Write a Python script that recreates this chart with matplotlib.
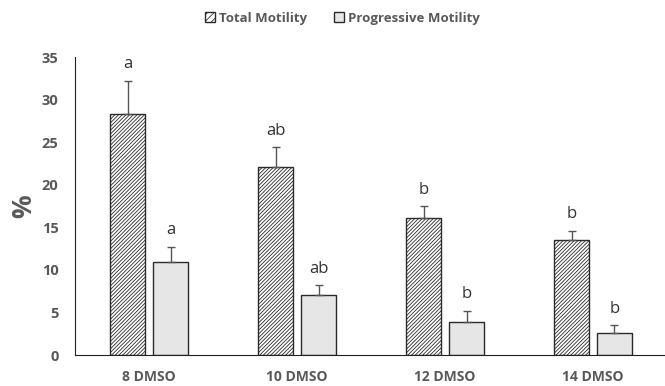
import numpy as np
import matplotlib
matplotlib.use("Agg")
import matplotlib.pyplot as plt
from matplotlib.patches import Patch

categories = ["8 DMSO", "10 DMSO", "12 DMSO", "14 DMSO"]
total = [28.3, 22.1, 16.1, 13.5]
total_err = [3.9, 2.3, 1.4, 1.1]
progressive = [10.9, 7.05, 3.9, 2.6]
progressive_err = [1.8, 1.15, 1.3, 0.9]
total_letters = ["a", "ab", "b", "b"]
prog_letters = ["a", "ab", "b", "b"]

plt.rcParams["font.family"] = ["Open Sans", "DejaVu Sans"]
plt.rcParams["hatch.linewidth"] = 0.6

fig = plt.figure(figsize=(6.65, 3.86), dpi=100)
ax = fig.add_axes([0.113, 0.080, 0.89, 0.772])

x = np.arange(len(categories))
w = 0.235
off = 0.145
edge = "#2b2b2b"

ax.bar(x - off, total, w, color="white", edgecolor=edge, hatch="/////////", linewidth=1.0,
       yerr=[[0] * 4, total_err], error_kw=dict(ecolor="#555555", elinewidth=1, capsize=3))
ax.bar(x + off, progressive, w, color="#e7e6e6", edgecolor=edge, linewidth=1.0,
       yerr=[[0] * 4, progressive_err], error_kw=dict(ecolor="#555555", elinewidth=1, capsize=3))

for i in range(len(categories)):
    ax.text(x[i] - off, total[i] + total_err[i] + 1.0, total_letters[i],
            ha="center", va="bottom", fontsize=12, color="#333333")
    ax.text(x[i] + off, progressive[i] + progressive_err[i] + 1.0, prog_letters[i],
            ha="center", va="bottom", fontsize=12, color="#333333")

ax.set_xlim(-0.5, 3.5)
ax.set_ylim(0, 35)
ax.set_yticks(range(0, 36, 5))
ax.set_xticks(x)
ax.set_xticklabels(categories, fontweight="bold", color="#595959", fontsize=10)
for lab in ax.get_yticklabels():
    lab.set_fontweight("bold")
    lab.set_color("#595959")
    lab.set_fontsize(10.5)
ax.tick_params(axis="y", length=0, pad=12)
ax.tick_params(axis="x", length=0, pad=11)
ax.set_ylabel("%", fontsize=19, fontweight="bold", color="#595959", labelpad=3)

for s in ["top", "right"]:
    ax.spines[s].set_visible(False)
ax.spines["left"].set_color("#222222")
ax.spines["bottom"].set_color("#222222")

handles = [Patch(facecolor="white", edgecolor=edge, hatch="/////", label="Total Motility"),
           Patch(facecolor="#e7e6e6", edgecolor=edge, label="Progressive Motility")]
leg = fig.legend(handles=handles, loc="center", bbox_to_anchor=(0.515, 0.953), ncol=2,
                 frameon=False, handlelength=0.8, handleheight=0.8, handletextpad=0.3,
                 columnspacing=2.0, prop=dict(weight="bold", size=9.5))
for t in leg.get_texts():
    t.set_color("#595959")

fig.savefig("out.png", dpi=100)
